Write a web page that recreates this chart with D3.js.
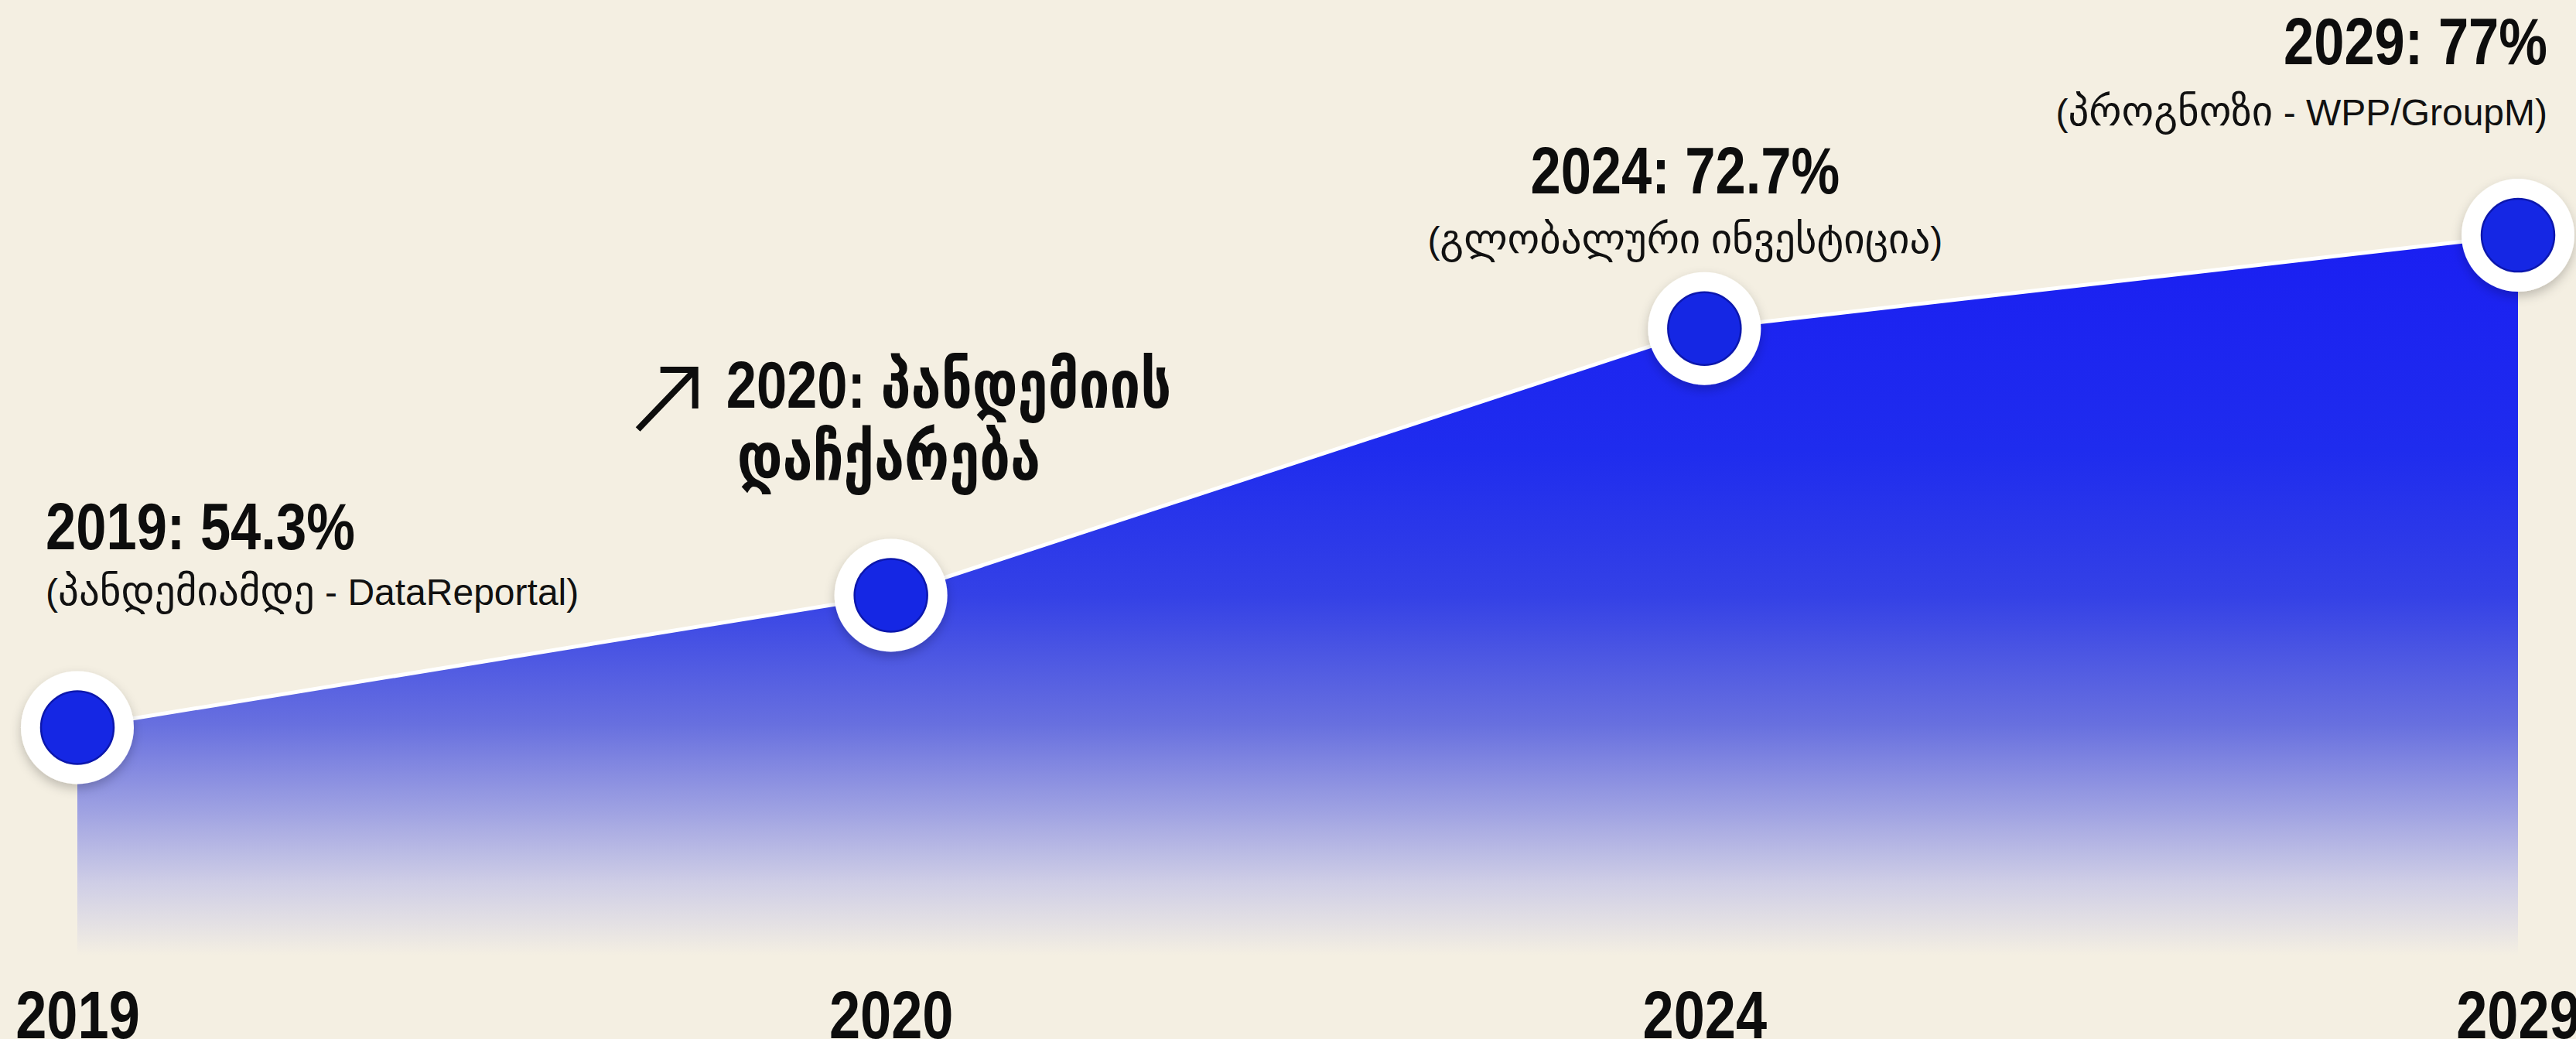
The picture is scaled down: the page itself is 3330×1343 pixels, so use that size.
<!DOCTYPE html>
<html>
<head>
<meta charset="utf-8">
<script src="https://cdn.jsdelivr.net/npm/d3@7"></script>
<style>
  html, body { margin: 0; padding: 0; background: #f4efe2; }
  svg { display: block; }
</style>
</head>
<body>
<svg id="chart" width="3330" height="1343"></svg>
<script>
// Share of digital in global ad spend (%), by year
const years = ["2019", "2020", "2024", "2029"];
const shares = [54.3, 60.4, 72.7, 77];

// Annotation texts per year
const headlines = ["2019: 54.3%", "2020: პანდემიის", "2024: 72.7%", "2029: 77%"];
const headlinesSecond = ["", "დაჩქარება", "", ""];
const sources = ["(პანდემიამდე - DataReportal)", "", "(გლობალური ინვესტიცია)", "(პროგნოზი - WPP/GroupM)"];

const W = 3330, H = 1343;
const BG = "#f4efe2";
const FONT = "'Liberation Sans', 'DejaVu Sans', Arial, sans-serif";
const CONDENSE = 0.82;

const data = years.map((yr, i) => ({ year: yr, v: shares[i] }));

const svg = d3.select("#chart");
svg.append("rect").attr("width", W).attr("height", H).attr("fill", BG);

const x = d3.scalePoint().domain(years).range([100, 3255]);
const y = d3.scaleLinear().domain([50, 80]).range([1061, 220]);
const baseY = 1235;

const defs = svg.append("defs");

// vertical fade of the area, from saturated blue to the page colour
const grad = defs.append("linearGradient")
  .attr("id", "areaFill")
  .attr("gradientUnits", "userSpaceOnUse")
  .attr("x1", 0).attr("x2", 0)
  .attr("y1", y(d3.max(shares))).attr("y2", baseY);
[
  [0.00, "#1a1ff2"],
  [0.30, "#1f2cee"],
  [0.50, "#3441e6"],
  [0.68, "#6870df"],
  [0.80, "#9fa2e2"],
  [0.90, "#cfcee6"],
  [1.00, BG]
].forEach(([o, c]) => grad.append("stop").attr("offset", o).attr("stop-color", c));

const shadow = defs.append("filter").attr("id", "dotShadow")
  .attr("x", "-50%").attr("y", "-50%").attr("width", "200%").attr("height", "200%");
shadow.append("feDropShadow")
  .attr("dx", 0).attr("dy", 6).attr("stdDeviation", 7)
  .attr("flood-color", "#000").attr("flood-opacity", 0.22);

// area + white edge
const area = d3.area().x(d => x(d.year)).y0(baseY).y1(d => y(d.v));
const line = d3.line().x(d => x(d.year)).y(d => y(d.v));

svg.append("path").datum(data).attr("d", area).attr("fill", "url(#areaFill)");
svg.append("path").datum(data).attr("d", line)
  .attr("fill", "none").attr("stroke", "#ffffff").attr("stroke-width", 5)
  .attr("stroke-linejoin", "round");

// markers
const dots = svg.append("g").selectAll("g").data(data).join("g")
  .attr("transform", d => `translate(${x(d.year)},${y(d.v)})`);
dots.append("circle").attr("r", 73).attr("fill", "#ffffff").attr("filter", "url(#dotShadow)");
dots.append("circle").attr("r", 47).attr("fill", "#1527e4")
  .attr("stroke", "#0c17ad").attr("stroke-width", 2.5);

// x axis
const xAxis = svg.append("g")
  .attr("transform", `translate(0,${H - 1})`)
  .call(d3.axisBottom(x).tickSize(0).tickPadding(0));
xAxis.select(".domain").remove();
xAxis.selectAll("text")
  .attr("y", 0).attr("dy", 0)
  .attr("transform", `scale(${CONDENSE},1)`)
  .style("font-family", FONT)
  .style("font-size", "88px")
  .style("font-weight", 700)
  .attr("fill", "#0d0d0d");

// annotation layout: anchor, x offset from the point, baselines
const layout = [
  { anchor: "start",  dx: -41,  t: 710, s: 782 },
  { anchor: "start",  dx: -213, t: 527, t2: 620, dx2: -199 },
  { anchor: "middle", dx: -25,  t: 250, s: 327 },
  { anchor: "end",    dx: 38,   t: 83,  s: 162 }
];

// Georgian runs are set a little larger than the Latin ones
const georgian = /[\u10A0-\u10FF]+/g;
function scriptRuns(str) {
  const runs = [];
  let last = 0, m;
  while ((m = georgian.exec(str)) !== null) {
    if (m.index > last) runs.push({ t: str.slice(last, m.index), ka: false });
    runs.push({ t: m[0], ka: true });
    last = m.index + m[0].length;
  }
  if (last < str.length) runs.push({ t: str.slice(last), ka: false });
  return runs;
}

const notes = svg.append("g");
data.forEach((d, i) => {
  const L = layout[i];
  const px = x(d.year);
  notes.append("g")
    .attr("transform", `translate(${px + L.dx},${L.t}) scale(${CONDENSE},1)`)
    .append("text")
    .attr("text-anchor", L.anchor)
    .style("font-family", FONT).style("font-size", "86px").style("font-weight", 700)
    .attr("fill", "#0d0d0d")
    .text(headlines[i]);
  if (headlinesSecond[i]) {
    notes.append("g")
      .attr("transform", `translate(${px + L.dx2},${L.t2}) scale(${CONDENSE},1)`)
      .append("text")
      .attr("text-anchor", L.anchor)
      .style("font-family", FONT).style("font-size", "86px").style("font-weight", 700)
      .attr("fill", "#0d0d0d")
      .text(headlinesSecond[i]);
  }
  if (sources[i]) {
    const t = notes.append("text")
      .attr("x", px + L.dx).attr("y", L.s)
      .attr("text-anchor", L.anchor)
      .style("font-family", FONT).style("font-weight", 400)
      .attr("fill", "#111");
    scriptRuns(sources[i]).forEach(r => {
      t.append("tspan")
        .style("font-size", r.ka ? "53px" : "48px")
        .text(r.t);
    });
  }
});

// rising arrow beside the 2020 note
const ax = x("2020") - 253, ay = 478;
notes.append("path")
  .attr("d", `M${ax - 74},${ay + 77} L${ax},${ay} M${ax - 45},${ay} L${ax},${ay} L${ax},${ay + 50}`)
  .attr("fill", "none").attr("stroke", "#0d0d0d").attr("stroke-width", 8)
  .attr("stroke-linecap", "butt").attr("stroke-linejoin", "miter");
</script>
</body>
</html>
